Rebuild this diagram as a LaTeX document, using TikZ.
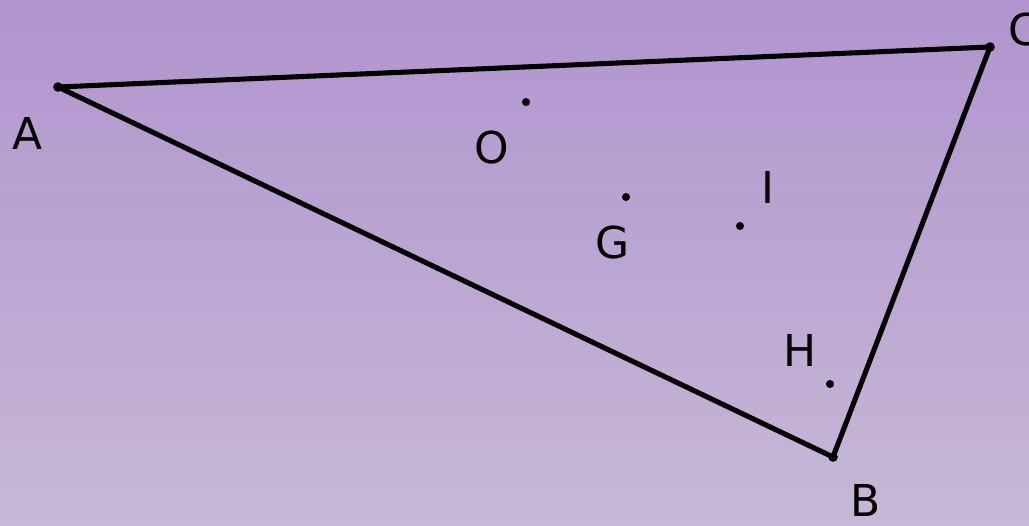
\documentclass[tikz,border=0pt]{standalone}
\usepackage{fontspec}
\setmainfont{DejaVu Sans}
\definecolor{bgtop}{RGB}{177,148,206}
\definecolor{bgbottom}{RGB}{198,184,214}
\tikzset{
	side/.style={line width=2.9pt, line join=round},
	pt/.style={circle, fill=black, inner sep=0pt, minimum size=4.6pt},
	vx/.style={circle, fill=black, inner sep=0pt, minimum size=5.5pt},
	lbl/.style={font=\fontsize{25}{29}\selectfont}
}
\begin{document}
\begin{tikzpicture}[x=0.02cm, y=-0.02cm]
\clip (0,0) rectangle (1029,525);
\shade[top color=bgtop, bottom color=bgbottom] (0,0) rectangle (1029,525);
% triangle
\node[vx] (A) at (58,87) {};
\node[vx] (B) at (833,457) {};
\node[vx] (C) at (990,47) {};
\draw[side] (A.center) -- (C.center) -- (B.center) -- cycle;
% centres
\node[pt] (O) at (526,102) {};
\node[pt] (G) at (626,197) {};
\node[pt] (I) at (740,226) {};
\node[pt] (H) at (830,384) {};
% labels
\node[lbl] (lA) at (28,133) {A};
\node[lbl] (lB) at (866,500) {B};
\node[lbl] (lC) at (1024,30) {C};
\node[lbl] (lO) at (492,148) {O};
\node[lbl] (lG) at (613,243) {G};
\node[lbl] (lI) at (768,187) {I};
\node[lbl] (lH) at (800,350) {H};
\end{tikzpicture}
\end{document}
